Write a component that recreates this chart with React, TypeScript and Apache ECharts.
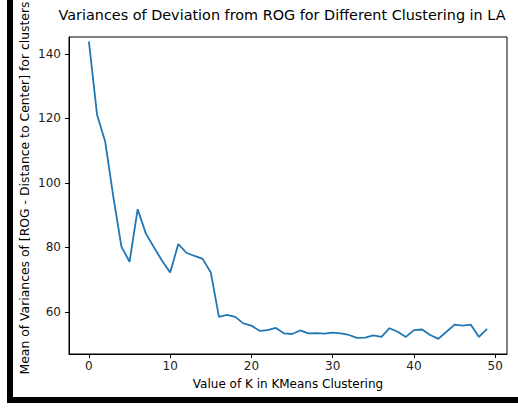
import React, { useEffect, useRef } from "react";
import * as echarts from "echarts";

const kValues: number[] = Array.from({ length: 50 }, (_, i) => i);
const variances: number[] = [
  143.8, 121.1, 112.8, 95.7, 80.2, 75.5, 91.8, 84.3, 80.0, 75.8,
  72.2, 81.0, 78.3, 77.3, 76.4, 72.2, 58.4, 59.0, 58.4, 56.4,
  55.7, 54.1, 54.3, 55.0, 53.3, 53.1, 54.2, 53.3, 53.4, 53.2,
  53.5, 53.3, 52.8, 51.9, 52.0, 52.7, 52.2, 54.9, 53.8, 52.2,
  54.3, 54.5, 52.8, 51.6, 53.8, 56.0, 55.7, 56.0, 52.2, 54.7,
];
const xTicks: number[] = [0, 10, 20, 30, 40, 50];
const yTicks: number[] = [60, 80, 100, 120, 140];

const titleText = "Variances of Deviation from ROG for Different Clustering in LA";
const xLabel = "Value of K in KMeans Clustering";
const yLabel = "Mean of Variances of [ROG - Distance to Center] for clusters";

export default function App() {
  const ref = useRef<HTMLDivElement>(null);
  useEffect(() => {
    if (!ref.current) return;
    const chart = echarts.init(ref.current, null, { renderer: "svg" });
    const font = "DejaVu Sans";
    chart.setOption({
      animation: false,
      backgroundColor: "#ffffff",
      textStyle: { fontFamily: font },
      grid: {
        left: 69,
        top: 37,
        width: 438,
        height: 317,
        show: true,
        borderColor: "#000",
        borderWidth: 1,
        backgroundColor: "transparent",
      },
      xAxis: {
        type: "value",
        min: -2.45,
        max: 51.45,
        axisLine: { show: true, onZero: false, lineStyle: { color: "#000", width: 1 } },
        axisTick: { show: true, customValues: xTicks, length: 4, lineStyle: { color: "#000" } },
        axisLabel: { customValues: xTicks, color: "#222", fontSize: 12, fontFamily: font, margin: 6 },
        splitLine: { show: false },
      },
      yAxis: {
        type: "value",
        min: 46.9,
        max: 145.2,
        axisLine: { show: true, onZero: false, lineStyle: { color: "#000", width: 1 } },
        axisTick: { show: true, customValues: yTicks, length: 4, lineStyle: { color: "#000" } },
        axisLabel: { customValues: yTicks, color: "#222", fontSize: 12, fontFamily: font, margin: 8 },
        splitLine: { show: false },
      },
      series: [
        {
          type: "line",
          data: kValues.map((k, i) => [k, variances[i]]),
          showSymbol: false,
          lineStyle: { color: "#1f77b4", width: 1.8 },
          itemStyle: { color: "#1f77b4" },
        },
      ],
      graphic: [
        {
          type: "text",
          x: 282,
          y: 15,
          style: {
            text: titleText,
            fontSize: 14.4,
            fontFamily: font,
            fill: "#000",
            align: "center",
            verticalAlign: "middle",
          },
        },
        {
          type: "text",
          x: 288,
          y: 384,
          style: {
            text: xLabel,
            fontSize: 12,
            fontFamily: font,
            fill: "#000",
            align: "center",
            verticalAlign: "middle",
          },
        },
        {
          type: "text",
          x: 24,
          y: 188,
          rotation: Math.PI / 2,
          style: {
            text: yLabel,
            fontSize: 12.4,
            fontFamily: font,
            fill: "#000",
            align: "center",
            verticalAlign: "middle",
          },
        },
        { type: "rect", shape: { x: 7, y: 0, width: 6, height: 403 }, style: { fill: "#000" } },
        { type: "rect", shape: { x: 7, y: 397, width: 511, height: 6 }, style: { fill: "#000" } },
      ],
    });
    return () => chart.dispose();
  }, []);
  return (
    <div
      ref={ref}
      style={{ position: "fixed", left: 0, top: 0, width: 518, height: 408 }}
    />
  );
}
